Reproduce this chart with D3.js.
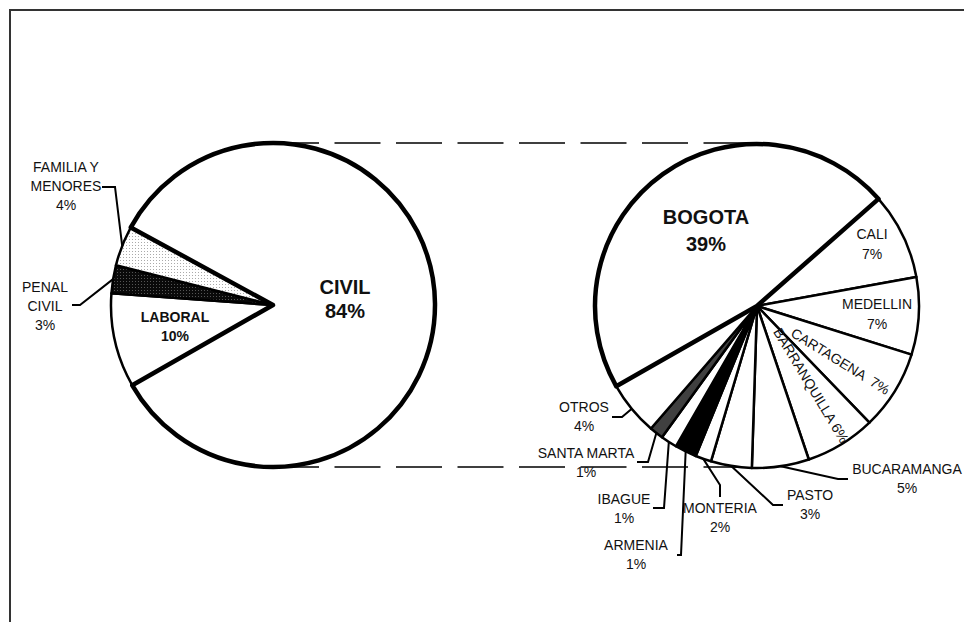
<!DOCTYPE html>
<html>
<head>
<meta charset="utf-8">
<script src="https://cdn.jsdelivr.net/npm/d3@7"></script>
<style>
  body { margin: 0; background: #fff; }
  text { font-family: "Liberation Sans", Arial, sans-serif; fill: #111; }
</style>
</head>
<body>
<script>
// data (left pie: tipo de proceso, right pie: breakdown of CIVIL by city)
var leftNames = ["LABORAL", "PENAL CIVIL", "FAMILIA Y MENORES", "CIVIL"];
var leftValues = [9.4, 2.8, 4.0, 83.8];
var leftPct = [10, 3, 4, 84];

var rightNames = ["BOGOTA", "CALI", "MEDELLIN", "CARTAGENA", "BARRANQUILLA", "BUCARAMANGA",
                  "PASTO", "MONTERIA", "ARMENIA", "IBAGUE", "SANTA MARTA", "OTROS"];
var rightValues = [39.2, 7.24, 6.47, 6.66, 5.89, 4.77, 3.42, 1.33, 1.82, 1.37, 1.16, 4.52];
var rightPct = [39, 7, 7, 7, 6, 5, 3, 2, 1, 1, 1, 4];

// layout
var W = 964, H = 622;
var R = 162;
var left = {cx: 273, cy: 305}, right = {cx: 757, cy: 306};
var startAngle = 240.3 * Math.PI / 180;

var svg = d3.select("body").append("svg")
    .attr("width", W)
    .attr("height", H);

var defs = svg.append("defs");
// light dotted fill
var p1 = defs.append("pattern").attr("id", "dotLight")
    .attr("width", 3).attr("height", 3).attr("patternUnits", "userSpaceOnUse");
p1.append("rect").attr("width", 3).attr("height", 3).attr("fill", "#fff");
p1.append("rect").attr("width", 1).attr("height", 1).attr("fill", "#aaa");
// dark dotted fill
var p2 = defs.append("pattern").attr("id", "dotDark")
    .attr("width", 3).attr("height", 3).attr("patternUnits", "userSpaceOnUse");
p2.append("rect").attr("width", 3).attr("height", 3).attr("fill", "#0a0a0a");
p2.append("rect").attr("width", 1).attr("height", 1).attr("fill", "#555");

var fills = {
  "FAMILIA Y MENORES": "url(#dotLight)",
  "PENAL CIVIL": "url(#dotDark)",
  "ARMENIA": "#000",
  "SANTA MARTA": "#404040"
};

// frame
svg.append("rect")
    .attr("x", 10).attr("y", 10)
    .attr("width", 1000).attr("height", 700)
    .attr("fill", "none")
    .attr("stroke", "#333")
    .attr("stroke-width", 2);

// connector dashed lines
[left.cy - R, left.cy + R].forEach(function(y) {
  svg.append("line")
      .attr("x1", left.cx).attr("x2", right.cx)
      .attr("y1", y).attr("y2", y)
      .attr("stroke", "#000")
      .attr("stroke-width", 1.3)
      .attr("stroke-dasharray", "46 15.5");
});

var pie = d3.pie()
    .sort(null)
    .startAngle(startAngle)
    .endAngle(startAngle + 2 * Math.PI)
    .value(function(d) { return d.value; });

var arc = d3.arc().innerRadius(0).outerRadius(R);

function toRows(names, values, pct) {
  return names.map(function(n, i) { return {name: n, value: values[i], pct: pct[i]}; });
}

function drawPie(center, rows, bigName) {
  var g = svg.append("g")
      .attr("transform", "translate(" + center.cx + "," + center.cy + ")");
  var arcs = pie(rows);
  // small slices first, big one on top with the heavier outline
  arcs.sort(function(a, b) { return (a.data.name === bigName) - (b.data.name === bigName); });
  g.selectAll("path")
      .data(arcs)
      .enter()
      .append("path")
      .attr("d", arc)
      .attr("fill", function(d) { return fills[d.data.name] || "#fff"; })
      .attr("stroke", "#000")
      .attr("stroke-linejoin", "round")
      .attr("stroke-width", function(d) { return d.data.name === bigName ? 4.5 : 2.5; });
  return pie(rows);
}

var leftArcs = drawPie(left, toRows(leftNames, leftValues, leftPct), "CIVIL");
var rightArcs = drawPie(right, toRows(rightNames, rightValues, rightPct), "BOGOTA");

function mid(d) { return (d.startAngle + d.endAngle) / 2; }
function edgePoint(center, d) {
  var a = mid(d);
  return [center.cx + R * Math.sin(a), center.cy - R * Math.cos(a)];
}

// label placement (inside / outside with leader / rotated along slice)
var labelPos = {
  "CIVIL":             {type: "in", x: 345, y: 287, gap: 24, size: 20, bold: true, lines: ["CIVIL"]},
  "LABORAL":           {type: "in", x: 175, y: 317, gap: 19, size: 14, bold: true, lines: ["LABORAL"]},
  "FAMILIA Y MENORES": {type: "out", x: 66, y: 167, lines: ["FAMILIA Y", "MENORES"], elbow: [115, 187], end: [102, 187]},
  "PENAL CIVIL":       {type: "out", x: 45, y: 287, lines: ["PENAL", "CIVIL"], elbow: [80, 305], end: [72, 305]},
  "BOGOTA":            {type: "in", x: 706, y: 217, gap: 27, size: 20, bold: true, lines: ["BOGOTA"]},
  "CALI":              {type: "in", x: 872, y: 234, gap: 20, size: 14, lines: ["CALI"]},
  "MEDELLIN":          {type: "in", x: 877, y: 304, gap: 20, size: 14, lines: ["MEDELLIN"]},
  "CARTAGENA":         {type: "rot", r: 100, off: 3, text: "CARTAGENA  "},
  "BARRANQUILLA":      {type: "rot", r: 96, off: -5, text: "BARRANQUILLA "},
  "BUCARAMANGA":       {type: "out", x: 907, y: 469, lines: ["BUCARAMANGA"], elbow: [838, 479], end: [848, 479]},
  "PASTO":             {type: "out", x: 810, y: 495, lines: ["PASTO"], elbow: [773, 505], end: [783, 505]},
  "MONTERIA":          {type: "out", x: 720, y: 508, lines: ["MONTERIA"], elbow: [720, 485], end: [720, 497]},
  "ARMENIA":           {type: "out", x: 636, y: 545, lines: ["ARMENIA"], elbow: [681, 555], end: [677, 555]},
  "IBAGUE":            {type: "out", x: 624, y: 499, lines: ["IBAGUE"], elbow: [664, 508], end: [653, 508]},
  "SANTA MARTA":       {type: "out", x: 586, y: 453, lines: ["SANTA MARTA"], elbow: [648, 462], end: [637, 462]},
  "OTROS":             {type: "out", x: 584, y: 407, lines: ["OTROS"], elbow: [622, 417], end: [612, 417]}
};

function drawLabels(center, arcs) {
  arcs.forEach(function(d) {
    var lp = labelPos[d.data.name];
    var pctText = d.data.pct + "%";
    if (lp.type === "rot") {
      var a = mid(d);
      var deg = a * 180 / Math.PI - 90;
      // along the radius, nudged sideways
      var px = center.cx + lp.r * Math.sin(a) + lp.off * Math.cos(a);
      var py = center.cy - lp.r * Math.cos(a) + lp.off * Math.sin(a);
      svg.append("text")
          .attr("transform", "translate(" + px + "," + py + ") rotate(" + deg + ")")
          .attr("text-anchor", "middle")
          .attr("dominant-baseline", "central")
          .style("white-space", "pre")
          .style("font-size", "14px")
          .text(lp.text + pctText);
      return;
    }
    var size = lp.size || 14;
    var gap = lp.gap || 19;
    var lines = lp.lines.concat([pctText]);
    var t = svg.append("text")
        .attr("text-anchor", "middle")
        .style("font-size", size + "px")
        .style("font-weight", lp.bold ? "bold" : "normal");
    lines.forEach(function(s, i) {
      t.append("tspan")
          .attr("x", lp.x)
          .attr("y", lp.y + i * gap)
          .attr("dominant-baseline", "central")
          .text(s);
    });
    if (lp.type === "out") {
      var p0 = edgePoint(center, d);
      svg.append("path")
          .attr("d", d3.line()([p0, lp.elbow, lp.end]))
          .attr("fill", "none")
          .attr("stroke", "#000")
          .attr("stroke-width", 2);
    }
  });
}

drawLabels(left, leftArcs);
drawLabels(right, rightArcs);
</script>
</body>
</html>
